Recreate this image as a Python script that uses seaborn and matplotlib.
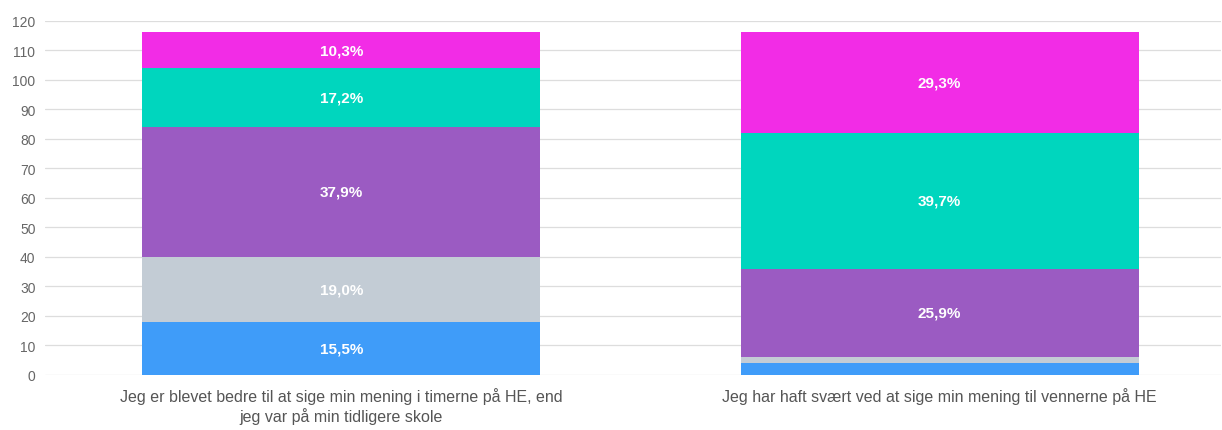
import matplotlib.pyplot as plt
import pandas as pd
import seaborn as sns

sns.set_theme(style="white")
plt.rcParams["font.family"] = ["Liberation Sans", "DejaVu Sans"]

questions = [
    "Jeg er blevet bedre til at sige min mening i timerne på HE, end\njeg var på min tidligere skole",
    "Jeg har haft svært ved at sige min mening til vennerne på HE",
]
# stacked from the bottom up
levels = ["Helt uenig", "Uenig", "Hverken eller", "Enig", "Helt enig"]
colors = ["#3f9cf9", "#c3ccd5", "#9b5bc2", "#00d6be", "#f22ce6"]
counts_q1 = [18, 22, 44, 20, 12]
counts_q2 = [4, 2, 30, 46, 34]
y_ticks = list(range(0, 121, 10))

df = pd.DataFrame({"question": questions, **{
    lvl: [a, b] for lvl, a, b in zip(levels, counts_q1, counts_q2)
}})
cum = df[levels].cumsum(axis=1)
totals = df[levels].sum(axis=1)

fig, ax = plt.subplots(figsize=(12.22, 4.31), dpi=100)

# draw cumulative bars from the top segment down so each level shows through
for i in range(len(levels) - 1, -1, -1):
    sns.barplot(
        x=df["question"],
        y=cum[levels[i]],
        color=colors[i],
        width=0.665,
        saturation=1,
        ax=ax,
        zorder=2,
        edgecolor="none",
    )

for j in range(len(df)):
    base = 0
    for i, lvl in enumerate(levels):
        val = df.loc[j, lvl]
        pct = val / totals[j] * 100
        if pct >= 5:
            ax.text(
                j, base + val / 2, f"{pct:.1f}%".replace(".", ","),
                ha="center", va="center", color="white",
                fontsize=11, fontweight="bold", zorder=3,
            )
        base += val

ax.set_ylim(0, 120)
ax.set_yticks(y_ticks)
ax.set_xlim(-0.495, 1.47)
ax.yaxis.grid(True, color="#dddddd", linewidth=0.9, zorder=0)
ax.set_axisbelow(True)
ax.tick_params(axis="y", labelsize=10, labelcolor="#666666", length=0, pad=7)
ax.tick_params(axis="x", labelsize=11.5, labelcolor="#555555", length=0, pad=9)
ax.set_xlabel("")
ax.set_ylabel("")
sns.despine(ax=ax, left=True, bottom=True)

fig.subplots_adjust(left=0.037, right=0.999, bottom=0.128, top=0.95)
fig.savefig("out.png")
